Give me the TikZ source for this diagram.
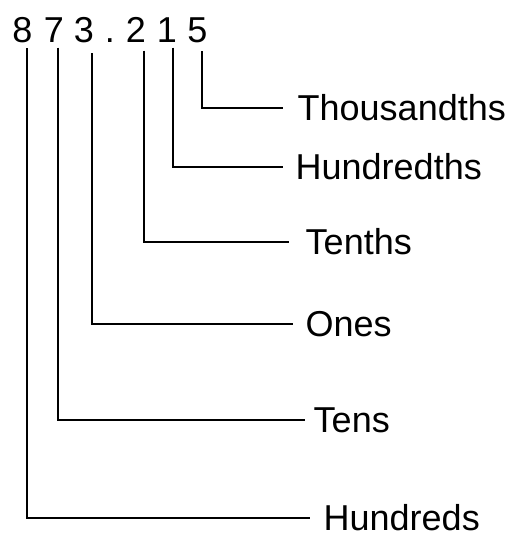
\documentclass[tikz,border=0pt]{standalone}
\usepackage{fontspec}
\setmainfont{Liberation Sans}
\usetikzlibrary{positioning}
\begin{document}
\begin{tikzpicture}[x = 1pt, y = -1pt, line width = 1.4pt,
    digit/.style = {anchor = base, inner sep = 0, font = \fontsize{36}{40}\selectfont},
    place/.style = {inner sep = 0, font = \fontsize{36}{40}\selectfont}]
    \useasboundingbox (0, 0) rectangle (518, 536);
    % the number
    \node[digit] (d8) at (22.5, 42) {8};
    \node[digit] (d7) at (54, 42) {7};
    \node[digit] (d3) at (84, 42) {3};
    \node[digit] (dot) at (110, 42) {.};
    \node[digit] (d2) at (136, 42) {2};
    \node[digit] (d1) at (167, 42) {1};
    \node[digit] (d5) at (197.5, 42) {5};
    % ends of the leaders
    \coordinate (e5) at (283, 108);
    \coordinate (e1) at (283, 167);
    \coordinate (e2) at (289, 242);
    \coordinate (e3) at (293, 324);
    \coordinate (e7) at (305, 420);
    \coordinate (e8) at (310, 518);
    % place values
    \node[place, right = 14pt of e5] (thousandths) {Thousandths};
    \node[place, right = 12pt of e1] (hundredths) {Hundredths};
    \node[place, right = 16pt of e2] (tenths) {Tenths};
    \node[place, right = 12pt of e3] (ones) {Ones};
    \node[place, right = 8pt of e7] (tens) {Tens};
    \node[place, right = 13pt of e8] (hundreds) {Hundreds};
    % leaders
    \draw ([xshift = 4.5pt, yshift = -8pt]d5.south) |- (e5);
    \draw ([xshift = 6pt, yshift = -5pt]d1.south) |- (e1);
    \draw ([xshift = 8pt, yshift = -8pt]d2.south) |- (e2);
    \draw ([xshift = 8pt, yshift = -10pt]d3.south) |- (e3);
    \draw ([xshift = 4pt, yshift = -5pt]d7.south) |- (e7);
    \draw ([xshift = 4.5pt, yshift = -5pt]d8.south) |- (e8);
\end{tikzpicture}
\end{document}
